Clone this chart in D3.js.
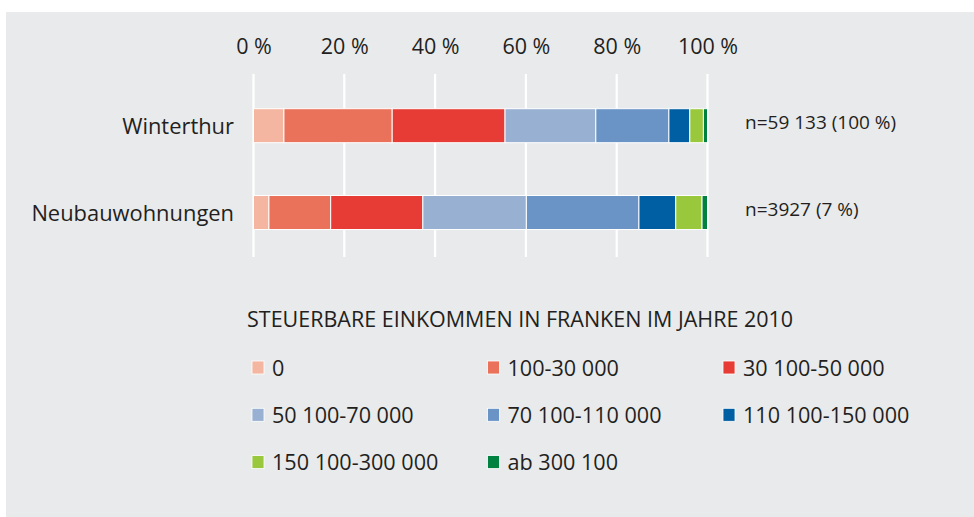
<!DOCTYPE html>
<html>
<head>
<meta charset="utf-8">
<script src="https://cdn.jsdelivr.net/npm/d3@7"></script>
<style>
  html, body { margin: 0; padding: 0; background: #ffffff; }
  svg { display: block; }
  text { font-family: "Open Sans", "Noto Sans", sans-serif; fill: #231f20; }
</style>
</head>
<body>
<script>
// ---------------- data ----------------
const categories = ["Winterthur", "Neubauwohnungen"];
const incomeClasses = ["0", "100-30 000", "30 100-50 000", "50 100-70 000",
  "70 100-110 000", "110 100-150 000", "150 100-300 000", "ab 300 100"];
const winterthurShares = [6.7, 23.85, 24.85, 20.0, 16.1, 4.6, 3.0, 0.9];
const neubauShares = [3.4, 13.6, 20.3, 22.8, 24.8, 8.1, 5.8, 1.2];
const nLabels = ["n=59 133 (100 %)", "n=3927 (7 %)"];
const tickValues = [0, 20, 40, 60, 80, 100];
const tickLabels = ["0 %", "20 %", "40 %", "60 %", "80 %", "100 %"];
const legendTitle = "STEUERBARE EINKOMMEN IN FRANKEN IM JAHRE 2010";
const classColors = ["#f4b6a1", "#ea715a", "#e63c35", "#98b0d2",
  "#6a94c6", "#005fa2", "#9ac83d", "#008140"];

// ---------------- layout ----------------
const W = 974, H = 517;
const svg = d3.select("body").append("svg").attr("width", W).attr("height", H);

svg.append("rect").attr("x", 6).attr("y", 12).attr("width", W - 6).attr("height", H - 12)
  .attr("fill", "#e9eaec");

const x = d3.scaleLinear().domain([0, 100]).range([253.5, 707.5]);
const y = d3.scalePoint().domain(categories).range([125.7, 212.5]);
const barH = 34;
const color = d3.scaleOrdinal().domain(incomeClasses).range(classColors);

// grid lines
svg.append("g").selectAll("line").data(tickValues).join("line")
  .attr("x1", d => x(d)).attr("x2", d => x(d))
  .attr("y1", 74).attr("y2", 257)
  .attr("stroke", "#ffffff").attr("stroke-width", 2.2);

// top axis labels
const axis = d3.axisTop(x).tickValues(tickValues)
  .tickFormat((d, i) => tickLabels[i]).tickSize(0).tickPadding(0);
const axG = svg.append("g").attr("transform", "translate(0,54)").call(axis);
axG.select(".domain").remove();
axG.selectAll("text").attr("font-size", 21.5).attr("fill", "#231f20")
  .attr("font-family", "'Open Sans', sans-serif").attr("dy", 0);

// bars
const seriesByCat = [winterthurShares, neubauShares];
categories.forEach((cat, ci) => {
  const vals = seriesByCat[ci];
  const ends = d3.cumsum(vals);
  const segs = vals.map((v, i) => ({ cls: incomeClasses[i], x0: ends[i] - v, x1: ends[i] }));
  svg.append("g").selectAll("rect").data(segs).join("rect")
    .attr("x", d => x(d.x0))
    .attr("width", d => Math.max(0, x(Math.min(d.x1, 100)) - x(d.x0)))
    .attr("y", y(cat) - barH / 2)
    .attr("height", barH)
    .attr("fill", d => color(d.cls))
    .attr("stroke", "#ffffff").attr("stroke-width", 1);

  svg.append("text").attr("x", 234).attr("y", y(cat) + 8.5)
    .attr("text-anchor", "end").attr("font-size", 21.9).text(cat);

  svg.append("text").attr("x", 745).attr("y", y(cat) + 3.6)
    .attr("font-size", 19).text(nLabels[ci]);
});

// legend
svg.append("text").attr("x", 247).attr("y", 327).attr("font-size", 21.5).text(legendTitle);

const leg = svg.append("g").selectAll("g").data(incomeClasses).join("g")
  .attr("transform", (d, i) => `translate(${252 + (i % 3) * 235.5},${375.5 + Math.floor(i / 3) * 47.3})`);
leg.append("rect").attr("x", 0).attr("y", -14.5).attr("width", 12).attr("height", 13)
  .attr("fill", d => color(d)).attr("stroke", "#ffffff").attr("stroke-width", 0.8);
leg.append("text").attr("x", 20).attr("y", 0).attr("font-size", 21.6).text(d => d);
</script>
</body>
</html>
